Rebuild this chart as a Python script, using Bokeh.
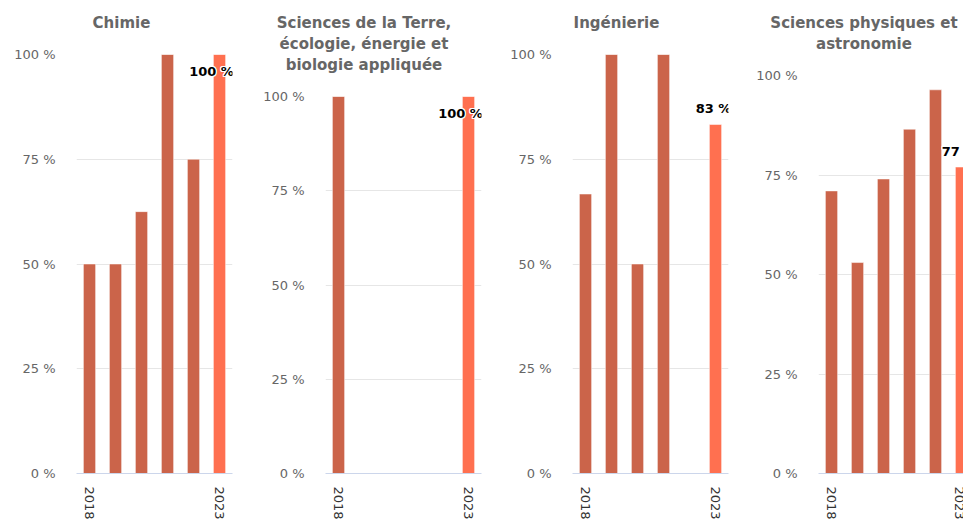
from bokeh.plotting import figure
from bokeh.layouts import row, column
from bokeh.models import Range1d, FixedTicker, ColumnDataSource, Div
from bokeh.core.properties import value
from bokeh.embed import file_html
from bokeh.resources import INLINE

# ---- data ----
years = [2018, 2019, 2020, 2021, 2022, 2023]
titles = [
    "Chimie",
    "Sciences de la Terre,\nécologie, énergie et\nbiologie appliquée",
    "Ingénierie",
    "Sciences physiques et\nastronomie",
]
chimie = [50, 50, 62.5, 100, 75, 100]
terre = [100, None, None, None, None, 100]
ingenierie = [66.7, 100, 50, 100, None, 83.3]
physique = [71, 53, 74, 86.5, 96.4, 77]
series = [chimie, terre, ingenierie, physique]
y_ticks = [0, 25, 50, 75, 100]
x_ticks = [2018, 2023]
highlight_year = 2023

# ---- style / layout (pixels) ----
BASE = "#CB644A"
HIGH = "#FF7050"
TOTAL_H = 522
widths = [249, 247, 246, 221]
LEFT_B = 76
TOP_B = 10
BOTTOM_B = 47
top100_px = [54, 96, 54, 75]                 # pixel row of the 100 % gridline
band_px = 26
title_center = [121.5, 115, 120.5, 122]      # title centre, from panel's left edge
TITLE_BOX = 200
FONT = "DejaVu Sans"


def make_panel(i, vals):
    w = widths[i]
    right_b = max(0, w - LEFT_B - 6 * band_px)
    frame_w = w - LEFT_B - right_b
    x0 = years[0] - 0.5
    head_h = top100_px[i] - TOP_B
    fig_h = TOTAL_H - head_h
    p = figure(
        width=w, height=fig_h, title=None,
        x_range=Range1d(x0, x0 + frame_w / band_px),
        y_range=Range1d(0, 100),
        output_backend="svg", toolbar_location=None, tools="",
        min_border_left=LEFT_B, min_border_right=right_b,
        min_border_top=TOP_B, min_border_bottom=BOTTOM_B,
    )
    p.outline_line_color = None
    p.background_fill_color = "white"
    p.border_fill_color = "white"

    xs = [y for y, v in zip(years, vals) if v is not None]
    tops = [v for v in vals if v is not None]
    cols = [HIGH if y == highlight_year else BASE for y in xs]
    src = ColumnDataSource(dict(x=xs, top=tops, color=cols))
    p.vbar(x="x", top="top", bottom=0, width=0.47, source=src,
           fill_color="color", line_color="white", line_alpha=0.5, line_width=1)

    # data label on the highlighted year
    v = vals[years.index(highlight_year)]
    lsrc = ColumnDataSource(dict(x=[highlight_year], y=[v], label=[f"{round(v)} %"]))
    inside = v >= 100
    xo = -8 if inside else -2
    yo = 17 if inside else -16
    for dx, dy in [(-1, -1), (-1, 1), (1, -1), (1, 1), (0, -1), (0, 1), (-1, 0), (1, 0)]:
        p.text(x="x", y="y", text="label", source=lsrc, x_offset=xo + dx, y_offset=yo + dy,
               text_color="white", text_font=value(FONT), text_font_style="bold",
               text_font_size="13px", text_align="center", text_baseline="middle")
    p.text(x="x", y="y", text="label", source=lsrc, x_offset=xo, y_offset=yo,
           text_color="black", text_font=value(FONT), text_font_style="bold",
           text_font_size="13px", text_align="center", text_baseline="middle")

    # axes
    p.yaxis.ticker = FixedTicker(ticks=y_ticks)
    p.yaxis.major_label_overrides = {t: f"{t} %" for t in y_ticks}
    p.yaxis.axis_line_color = None
    p.yaxis.major_tick_line_color = None
    p.yaxis.minor_tick_line_color = None
    p.yaxis.major_tick_out = 0
    p.yaxis.major_tick_in = 0
    p.yaxis.minor_tick_out = 0
    p.yaxis.major_label_standoff = 21
    p.yaxis.major_label_text_color = "#666666"
    p.yaxis.major_label_text_font = FONT
    p.yaxis.major_label_text_font_size = "13px"

    p.xaxis.ticker = FixedTicker(ticks=x_ticks)
    p.xaxis.major_label_overrides = {t: str(t) for t in x_ticks}
    p.xaxis.major_label_orientation = "vertical"
    p.xaxis.axis_line_color = "#ccd6eb"
    p.xaxis.major_tick_line_color = None
    p.xaxis.minor_tick_line_color = None
    p.xaxis.major_tick_out = 0
    p.xaxis.major_tick_in = 0
    p.xaxis.minor_tick_out = 0
    p.xaxis.major_label_standoff = 13
    p.xaxis.major_label_text_color = "#333333"
    p.xaxis.major_label_text_font = FONT
    p.xaxis.major_label_text_font_size = "13px"

    p.xgrid.visible = False
    p.ygrid.grid_line_color = "#e6e6e6"
    p.ygrid.grid_line_width = 1

    ml = title_center[i] - TITLE_BOX / 2
    html = (
        f'<div style="margin-left:{ml}px;width:{TITLE_BOX}px;text-align:center;'
        f"font-family:'{FONT}';font-weight:bold;font-size:15px;line-height:21px;"
        f'color:#666666;padding-top:13px;white-space:nowrap">'
        + "<br>".join(titles[i].split("\n")) + "</div>"
    )
    head = Div(text=html, width=w, height=head_h, margin=0)
    return column(head, p, spacing=0)


panels = [make_panel(i, s) for i, s in enumerate(series)]
layout = row(*panels, spacing=0)
with open("out.html", "w", encoding="utf-8") as f:
    f.write(file_html(layout, INLINE))
